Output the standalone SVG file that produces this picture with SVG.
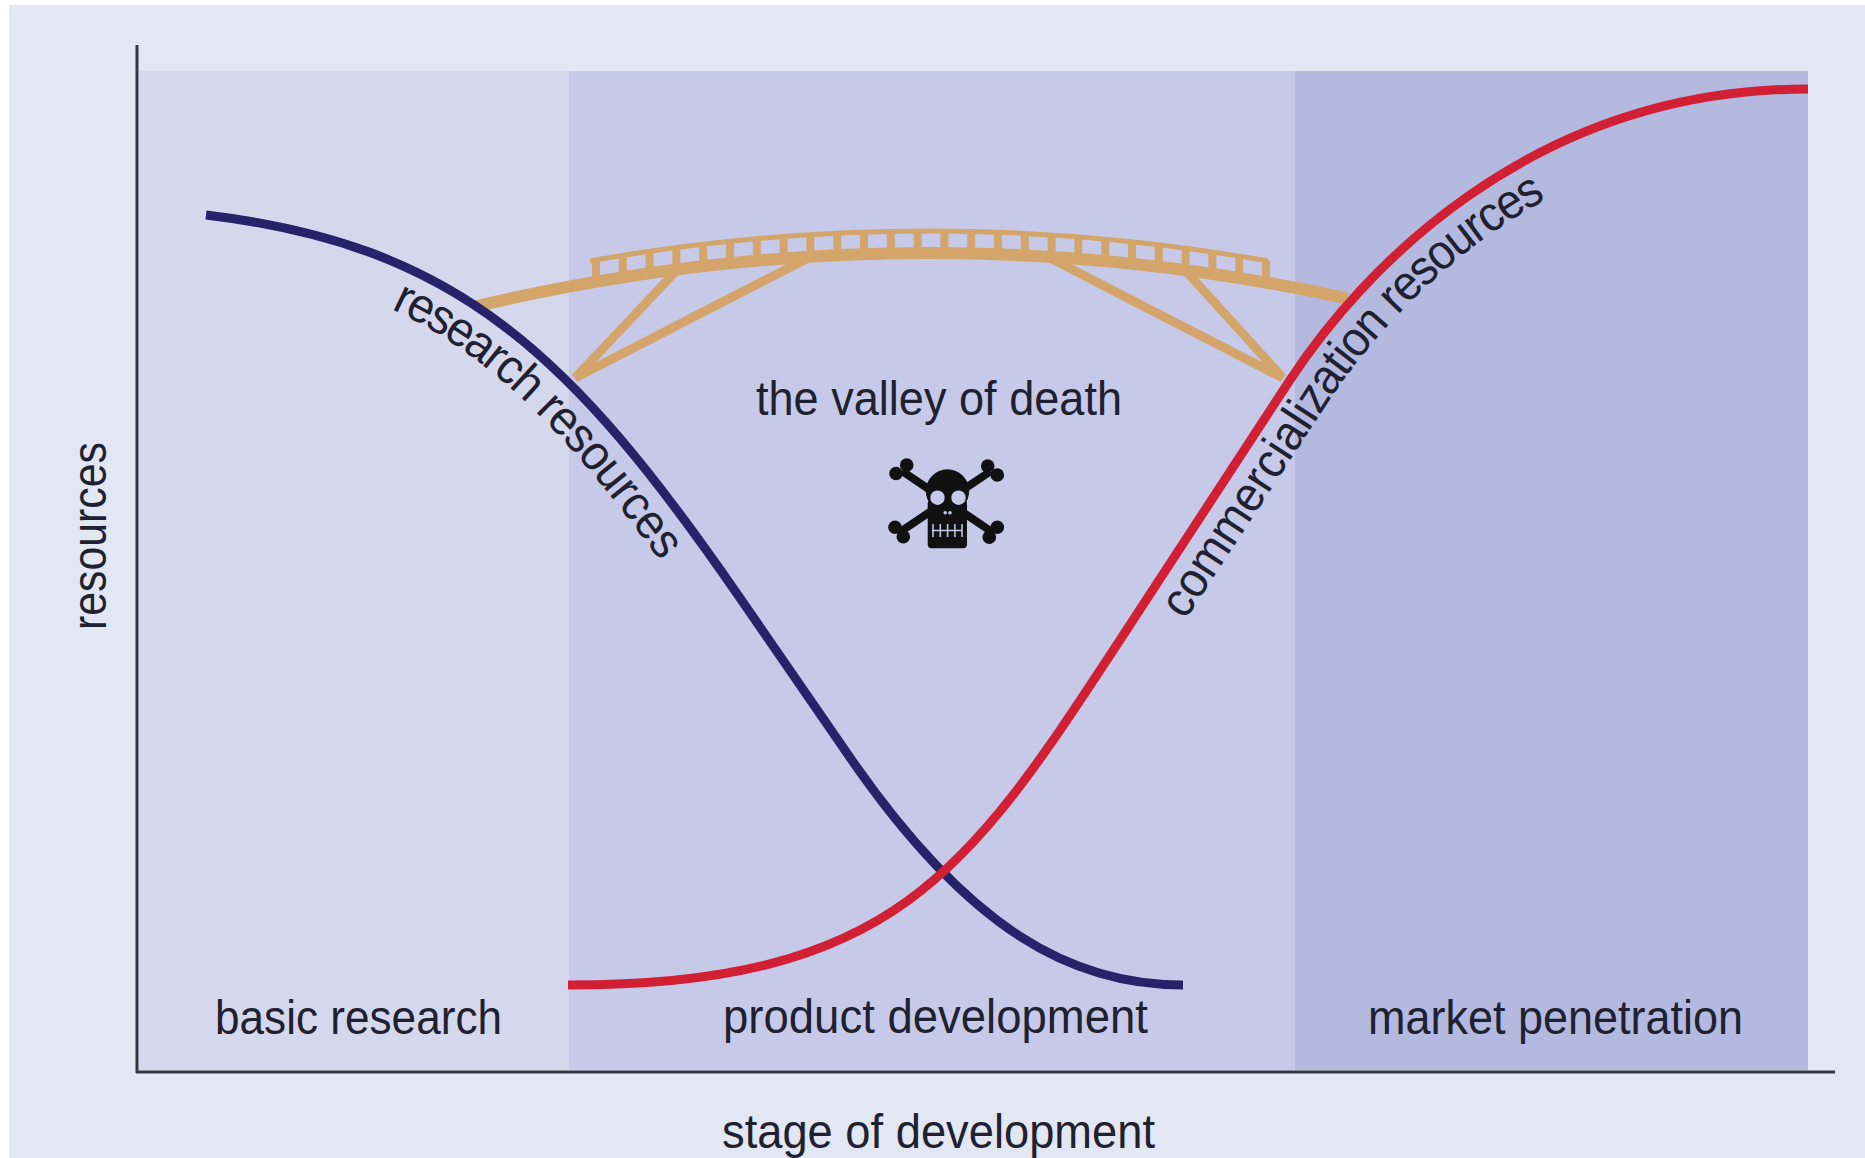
<svg xmlns="http://www.w3.org/2000/svg" xmlns:xlink="http://www.w3.org/1999/xlink" width="1865" height="1158" viewBox="0 0 1865 1158">
<style>
.lbl{font-family:"Liberation Sans",Arial,sans-serif;font-size:49px;fill:#1f2130}
.axis{stroke:#333640;stroke-width:3;fill:none}
.tan{stroke:#d4a56b;fill:none}
.bone{stroke:#111;stroke-width:8;fill:none}
</style>
<defs>
<path id="bluePath" d="M206,215 C456,245 570,351.5 740,598 L850,757.5 C970,931.5 1073,985 1183,985"/>
<path id="redPath" d="M568,985 C898,985 970,868 1120,640 L1290,380 C1360,273.6 1528,89 1808,89"/>
</defs>
<rect x="0" y="0" width="1865" height="1158" fill="#ffffff"/>
<rect id="background" x="9" y="5" width="1856" height="1153" fill="#e3e6f3"/>
<g id="regions">
<rect id="basic-research-zone" x="139" y="71" width="430" height="999" fill="#d5d8ec"/>
<rect id="product-development-zone" x="569" y="71" width="726" height="999" fill="#c6cae8"/>
<rect id="market-penetration-zone" x="1295" y="71" width="513" height="999" fill="#b3b9df"/>
</g>
<g id="axes">
<line class="axis" x1="137" y1="45" x2="137" y2="1073"/>
<line class="axis" x1="136" y1="1072" x2="1835" y2="1072"/>
</g>
<g id="bridge">
<path class="tan" stroke-width="12" d="M477,306 Q912,203.8 1347,298.4"/>
<path class="tan" stroke-width="5" d="M590,260.9 Q929,201.1 1268,260.9"/>
<path class="tan" stroke-width="8" d="M596,281.8v-22 M622.8,277.4v-22 M649.6,273.3v-22 M676.4,269.6v-22 M703.2,266.3v-22 M730,263.3v-22 M756.8,260.7v-22 M783.6,258.5v-22 M810.4,256.7v-22 M837.2,255.2v-22 M864,254.1v-22 M890.8,253.4v-22 M917.6,253v-22 M944.4,253.1v-22 M971.2,253.5v-22 M998,254.2v-22 M1024.8,255.4v-22 M1051.6,256.9v-22 M1078.4,258.8v-22 M1105.2,261.1v-22 M1132,263.7v-22 M1158.8,266.7v-22 M1185.6,270.1v-22 M1212.4,273.9v-22 M1239.2,278v-22 M1266,282.5v-22"/>
<path class="tan" stroke-width="9" d="M575,378 L677,270 M575,378 L810,257 M1283,378 L1185,270 M1283,378 L1048,257"/>
</g>
<g id="skull">
<path class="bone" d="M902,471 L992,532 M991,471 L900,532"/>
<g fill="#111">
<circle cx="906.7" cy="465" r="6.8"/><circle cx="896" cy="473.5" r="6.8"/>
<circle cx="987.7" cy="466" r="6.8"/><circle cx="997.3" cy="475" r="6.8"/>
<circle cx="895" cy="527.3" r="6.8"/><circle cx="903.3" cy="536.7" r="6.8"/>
<circle cx="997.3" cy="527.3" r="6.8"/><circle cx="989.3" cy="537.3" r="6.8"/>
<circle cx="947.5" cy="491" r="21.7"/>
<rect x="927.7" y="500" width="39.3" height="48.3" rx="4"/>
</g>
<g fill="#c6cae8">
<circle cx="937.5" cy="497.7" r="7.2"/><circle cx="958.5" cy="497.7" r="7.2"/>
<circle cx="945.2" cy="512.7" r="1.8"/><circle cx="950" cy="512.7" r="1.8"/>
</g>
<path stroke="#c6cae8" stroke-width="1.5" fill="none" d="M932,530.5 H962 M933,524 v13 M940.3,524 v13 M947.6,524 v13 M954.9,524 v13 M962,524 v13"/>
</g>
<g id="connectors">
<use id="research-curve" xlink:href="#bluePath" fill="none" stroke="#26236b" stroke-width="9"/>
<use id="commercialization-curve" xlink:href="#redPath" fill="none" stroke="#d11f33" stroke-width="9"/>
</g>
<g id="curve-labels">
<text class="lbl" id="research-resources-label"><textPath xlink:href="#bluePath" startOffset="212" textLength="395" lengthAdjust="spacingAndGlyphs"><tspan dy="44">research resources</tspan></textPath></text>
<text class="lbl" id="commercialization-resources-label"><textPath xlink:href="#redPath" startOffset="746" textLength="583" lengthAdjust="spacingAndGlyphs"><tspan dy="44">commercialization resources</tspan></textPath></text>
</g>
<g id="labels">
<text class="lbl" x="756" y="415" textLength="366" lengthAdjust="spacingAndGlyphs">the valley of death</text>
<text class="lbl" x="215" y="1034" textLength="287" lengthAdjust="spacingAndGlyphs">basic research</text>
<text class="lbl" x="723" y="1033" textLength="425" lengthAdjust="spacingAndGlyphs">product development</text>
<text class="lbl" x="1368" y="1034" textLength="375" lengthAdjust="spacingAndGlyphs">market penetration</text>
<text class="lbl" x="722" y="1148" textLength="433" lengthAdjust="spacingAndGlyphs">stage of development</text>
<text class="lbl" x="106" y="536" text-anchor="middle" transform="rotate(-90 106 536)" textLength="188" lengthAdjust="spacingAndGlyphs">resources</text>
</g>
</svg>
